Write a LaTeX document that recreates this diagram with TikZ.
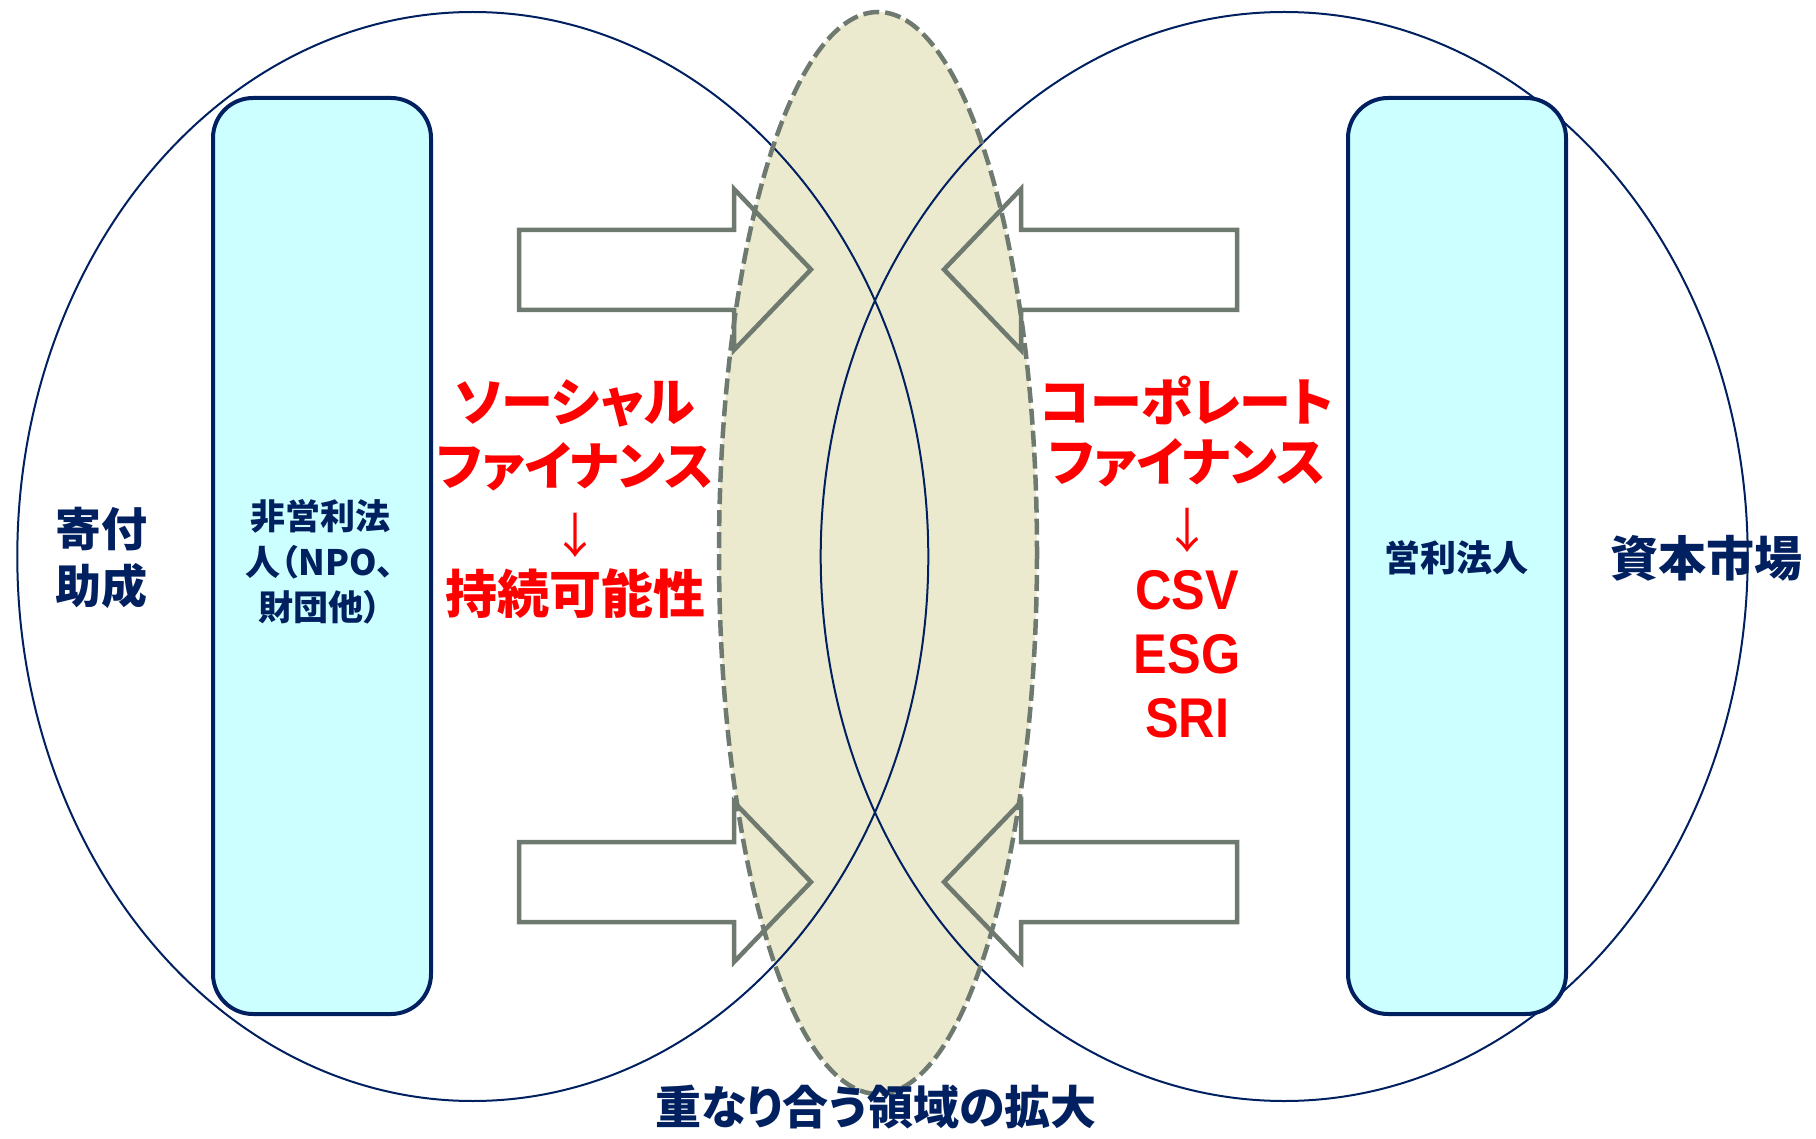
\documentclass[tikz,border=0pt]{standalone}
\usepackage{fontspec}
\newfontfamily\jp[RawFeature=+palt]{Noto Sans CJK JP}
\newfontfamily\jpfull{Noto Sans CJK JP}
\newfontfamily\arl{Liberation Sans}
\definecolor{navy}{RGB}{0,32,96}
\definecolor{redtxt}{RGB}{255,0,0}
\definecolor{arrgray}{RGB}{110,121,111}
\definecolor{beige}{RGB}{236,234,206}
\definecolor{boxcyan}{RGB}{204,255,255}
\tikzset{
  bigoval/.style={draw=navy, line width=2pt},
  lens/.style={draw=arrgray, line width=4.5pt, dash pattern=on 16pt off 6pt},
  orgbox/.style={draw=navy, fill=boxcyan, line width=4pt, rounded corners=40pt},
  blockarrow/.style={draw=arrgray, line width=4.5pt, line join=miter},
  navytxt/.style={text=navy, inner sep=0pt},
  redtxt/.style={text=redtxt, inner sep=0pt}
}
\begin{document}
\begin{tikzpicture}[x=1pt,y=-1pt]
\useasboundingbox (0,0) rectangle (1816,1139);
% overlap lens fill
\fill[beige] (878,553) ellipse [x radius=159, y radius=541];
% two large ovals
\draw[bigoval] (472.8,556.5) ellipse [x radius=455.5, y radius=544.5];
\draw[bigoval] (1284.2,556.5) ellipse [x radius=463.5, y radius=544.5];
% organisation boxes
\draw[orgbox] (213,98) rectangle (431,1014);
\draw[orgbox] (1348,98) rectangle (1566,1014);
% block arrows
\draw[blockarrow] (519,230) -- (734,230) -- (734,189) -- (811,269.5) -- (734,350) -- (734,310) -- (519,310) -- cycle;
\draw[blockarrow] (519,842) -- (734,842) -- (734,802) -- (811,882) -- (734,962) -- (734,922) -- (519,922) -- cycle;
\draw[blockarrow] (1237,230) -- (1021,230) -- (1021,189) -- (944,269.5) -- (1021,350) -- (1021,310) -- (1237,310) -- cycle;
\draw[blockarrow] (1237,842) -- (1021,842) -- (1021,802) -- (944,882) -- (1021,962) -- (1021,922) -- (1237,922) -- cycle;
% dashed lens border
\draw[lens] (878,553) ellipse [x radius=159, y radius=541];
% navy labels
\node[navytxt, font=\jp\bfseries\fontsize{46}{57}\selectfont, align=center] (kifu) at (101,557.5) {寄付\\助成};
\node[navytxt, font=\jp\bfseries\fontsize{35}{45.5}\selectfont, align=center] (npo) at (320,562) {非営利法\\人（NPO、\\財団他）};
\node[navytxt, font=\jp\bfseries\fontsize{36}{44}\selectfont] (eiri) at (1456,558) {営利法人};
\node[navytxt, font=\jp\bfseries\fontsize{48}{56}\selectfont] (shihon) at (1706,558) {資本市場};
\node[navytxt, font=\jp\bfseries\fontsize{46}{56}\selectfont] (overlap) at (876,1107) {重なり合う領域の拡大};
% red texts left
\node[redtxt, font=\jp\bfseries\fontsize{52}{60}\selectfont] (sf1) at (575,403) {ソーシャル};
\node[redtxt, font=\jp\bfseries\fontsize{52}{60}\selectfont] (sf2) at (575,467) {ファイナンス};
\node[redtxt, font=\jpfull\fontsize{48}{56}\selectfont] (sf3) at (575,535) {↓};
\node[redtxt, font=\jp\bfseries\fontsize{52}{60}\selectfont] (sf4) at (575,594) {持続可能性};
% red texts right
\node[redtxt, font=\jp\bfseries\fontsize{52}{60}\selectfont] (cf1) at (1187,400) {コーポレート};
\node[redtxt, font=\jp\bfseries\fontsize{52}{60}\selectfont] (cf2) at (1187,463) {ファイナンス};
\node[redtxt, font=\jpfull\fontsize{48}{56}\selectfont] (cf3) at (1187,530) {↓};
\node[redtxt, font=\arl\bfseries\fontsize{56}{60}\selectfont] (cf4) at (1187,590) {\scalebox{0.9}[1]{CSV}};
\node[redtxt, font=\arl\bfseries\fontsize{56}{60}\selectfont] (cf5) at (1187,654) {\scalebox{0.9}[1]{ESG}};
\node[redtxt, font=\arl\bfseries\fontsize{56}{60}\selectfont] (cf6) at (1187,718) {\scalebox{0.9}[1]{SRI}};
\end{tikzpicture}
\end{document}
